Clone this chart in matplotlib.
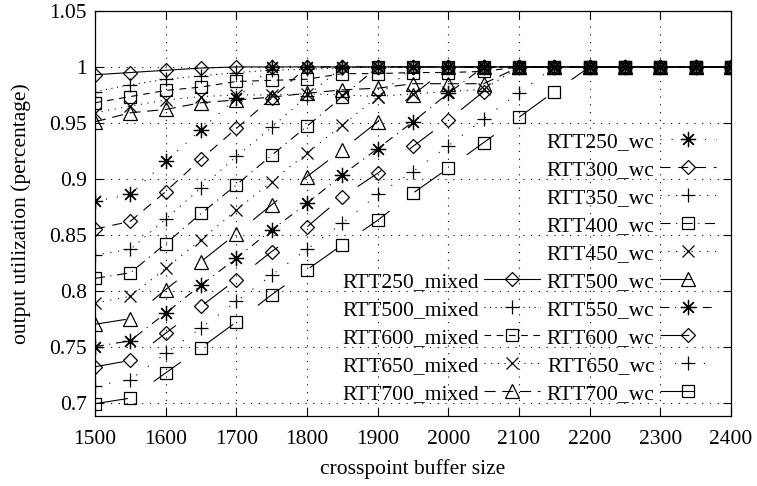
# plot.py
#
# Output utilization vs crosspoint buffer size (mixed and worst case RTTs)

import matplotlib
matplotlib.use('Agg')
import matplotlib.pyplot as plt

# Buffer sizes on the x axis
buffer_size = [1500, 1550, 1600, 1650, 1700, 1750, 1800, 1850, 1900, 1950,
               2000, 2050, 2100, 2150, 2200, 2250, 2300, 2350, 2400]

# Mixed RTT runs
rtt250_mixed = [0.993, 0.995, 0.997, 0.999, 1.0, 1.0, 1.0, 1.0, 1.0, 1.0,
                1.0, 1.0, 1.0, 1.0, 1.0, 1.0, 1.0, 1.0, 1.0]
rtt500_mixed = [0.978, 0.984, 0.989, 0.992, 0.995, 0.997, 0.998, 0.999, 1.0, 1.0,
                1.0, 1.0, 1.0, 1.0, 1.0, 1.0, 1.0, 1.0, 1.0]
rtt600_mixed = [0.968, 0.9735, 0.979, 0.982, 0.987, 0.988, 0.989, 0.994, 0.994, 0.995,
                0.995, 0.996, 1.0, 1.0, 1.0, 1.0, 1.0, 1.0, 1.0]
rtt650_mixed = [0.959, 0.965, 0.9705, 0.9735, 0.975, 0.975, 0.976, 0.975, 0.9735, 0.976,
                0.978, 0.98, 1.0, 1.0, 1.0, 1.0, 1.0, 1.0, 1.0]
rtt700_mixed = [0.951, 0.959, 0.962, 0.968, 0.9705, 0.973, 0.9765, 0.9795, 0.981, 0.985,
                0.985, 0.985, 1.0, 1.0, 1.0, 1.0, 1.0, 1.0, 1.0]

# Worst case RTT runs
rtt250_wc = [0.880, 0.886, 0.9155, 0.944, 0.972, 1.0, 1.0, 1.0, 1.0, 1.0,
             1.0, 1.0, 1.0, 1.0, 1.0, 1.0, 1.0, 1.0, 1.0]
rtt300_wc = [0.855, 0.862, 0.8886, 0.9176, 0.945, 0.972, 1.0, 1.0, 1.0, 1.0,
             1.0, 1.0, 1.0, 1.0, 1.0, 1.0, 1.0, 1.0, 1.0]
rtt350_wc = [0.832, 0.837, 0.864, 0.892, 0.920, 0.946, 0.974, 1.0, 1.0, 1.0,
             1.0, 1.0, 1.0, 1.0, 1.0, 1.0, 1.0, 1.0, 1.0]
rtt400_wc = [0.811, 0.816, 0.842, 0.869, 0.8946, 0.921, 0.947, 0.9735, 1.0, 1.0,
             1.0, 1.0, 1.0, 1.0, 1.0, 1.0, 1.0, 1.0, 1.0]
rtt450_wc = [0.789, 0.795, 0.820, 0.8455, 0.872, 0.8976, 0.923, 0.948, 0.9735, 1.0,
             1.0, 1.0, 1.0, 1.0, 1.0, 1.0, 1.0, 1.0, 1.0]
rtt500_wc = [0.770, 0.775, 0.801, 0.826, 0.851, 0.8768, 0.902, 0.926, 0.951, 0.975,
             1.0, 1.0, 1.0, 1.0, 1.0, 1.0, 1.0, 1.0, 1.0]
rtt550_wc = [0.750, 0.7553, 0.780, 0.805, 0.829, 0.8544, 0.878, 0.9036, 0.927, 0.951,
             0.9765, 1.0, 1.0, 1.0, 1.0, 1.0, 1.0, 1.0, 1.0]
rtt600_wc = [0.732, 0.7377, 0.762, 0.786, 0.810, 0.835, 0.857, 0.884, 0.905, 0.929,
             0.9527, 0.978, 1.0, 1.0, 1.0, 1.0, 1.0, 1.0, 1.0]
rtt650_wc = [0.715, 0.7205, 0.744, 0.7667, 0.7904, 0.814, 0.837, 0.8604, 0.886, 0.9065,
             0.9295, 0.9536, 0.977, 1.0, 1.0, 1.0, 1.0, 1.0, 1.0]
rtt700_wc = [0.699, 0.704, 0.7265, 0.749, 0.772, 0.7964, 0.8187, 0.841, 0.863, 0.8872,
             0.9095, 0.9324, 0.955, 0.978, 1.0, 1.0, 1.0, 1.0, 1.0]

# Axis ticks
x_ticks = [1500, 1600, 1700, 1800, 1900, 2000, 2100, 2200, 2300, 2400]
y_ticks = [0.7, 0.75, 0.8, 0.85, 0.9, 0.95, 1.0, 1.05]
y_tick_labels = ['0.7', '0.75', '0.8', '0.85', '0.9', '0.95', '1', '1.05']

plt.rcParams['font.family'] = ['Liberation Serif', 'DejaVu Serif']
plt.rcParams['font.size'] = 15.5

fig = plt.figure(figsize=(7.57, 4.86), dpi=100)
ax = fig.add_axes([0.1255, 0.144, 0.8402, 0.8334])

# gnuplot point type 3 is a plus laid over a cross
star = (8, 2, 0)

# gnuplot-like styles: (label, data, marker, size, linestyle)
mixed = [
    ('RTT250_mixed', rtt250_mixed, 'D', 7, '-'),
    ('RTT500_mixed', rtt500_mixed, '+', 10, (0, (1, 4))),
    ('RTT600_mixed', rtt600_mixed, 's', 8, (0, (6, 5))),
    ('RTT650_mixed', rtt650_mixed, 'x', 8, (0, (1, 5))),
    ('RTT700_mixed', rtt700_mixed, '^', 10, (0, (10, 6))),
]
wc = [
    ('RTT250_wc', rtt250_wc, star, 11, (0, (1, 9))),
    ('RTT300_wc', rtt300_wc, 'D', 7, (0, (9, 7))),
    ('RTT350_wc', rtt350_wc, '+', 10, (0, (1, 6))),
    ('RTT400_wc', rtt400_wc, 's', 8, (0, (9, 5, 1, 5))),
    ('RTT450_wc', rtt450_wc, 'x', 8, (0, (1, 6))),
    ('RTT500_wc', rtt500_wc, '^', 10, (0, (28, 30))),
    ('RTT550_wc', rtt550_wc, star, 11, (0, (8, 5, 1, 5))),
    ('RTT600_wc', rtt600_wc, 'D', 7, (0, (26, 32))),
    ('RTT650_wc', rtt650_wc, '+', 10, (0, (1, 12))),
    ('RTT700_wc', rtt700_wc, 's', 8, (0, (30, 28))),
]

mixed_lines = []
for label, data, mk, ms, ls in mixed:
    line, = ax.plot(buffer_size, data, color='black', lw=0.8, ls=ls,
                    marker=mk, ms=ms, mew=0.9, fillstyle='none', label=label)
    mixed_lines.append(line)

wc_lines = []
for label, data, mk, ms, ls in wc:
    line, = ax.plot(buffer_size, data, color='black', lw=0.8, ls=ls,
                    marker=mk, ms=ms, mew=0.9, fillstyle='none', label=label)
    wc_lines.append(line)

ax.set_xlim(1500, 2400)
ax.set_ylim(0.688, 1.05)
ax.set_xticks(x_ticks)
ax.set_yticks(y_ticks)
ax.set_yticklabels(y_tick_labels)
ax.grid(True, color='black', ls=(0, (1, 6)), lw=0.8)
ax.tick_params(direction='in', top=True, right=True, length=6, width=0.8)
ax.tick_params(axis='x', pad=10)
ax.tick_params(axis='y', pad=6)
for sp in ax.spines.values():
    sp.set_linewidth(0.9)

ax.set_xlabel('crosspoint buffer size', labelpad=7)
ax.set_ylabel('output utilization (percentage)', labelpad=13)

# Two keys, text on the left of the sample like gnuplot
leg_wc = ax.legend(handles=wc_lines, loc='lower right', markerfirst=False,
                   frameon=False, borderpad=0, borderaxespad=0,
                   handlelength=2.6, handletextpad=0.25, labelspacing=0.37,
                   bbox_to_anchor=(716 / 757, 82 / 486),
                   bbox_transform=fig.transFigure)
ax.add_artist(leg_wc)
ax.legend(handles=mixed_lines, loc='lower right', markerfirst=False,
          frameon=False, borderpad=0, borderaxespad=0,
          handlelength=2.6, handletextpad=0.25, labelspacing=0.37,
          bbox_to_anchor=(540 / 757, 82 / 486),
          bbox_transform=fig.transFigure)

plt.savefig('out.png', dpi=100)
